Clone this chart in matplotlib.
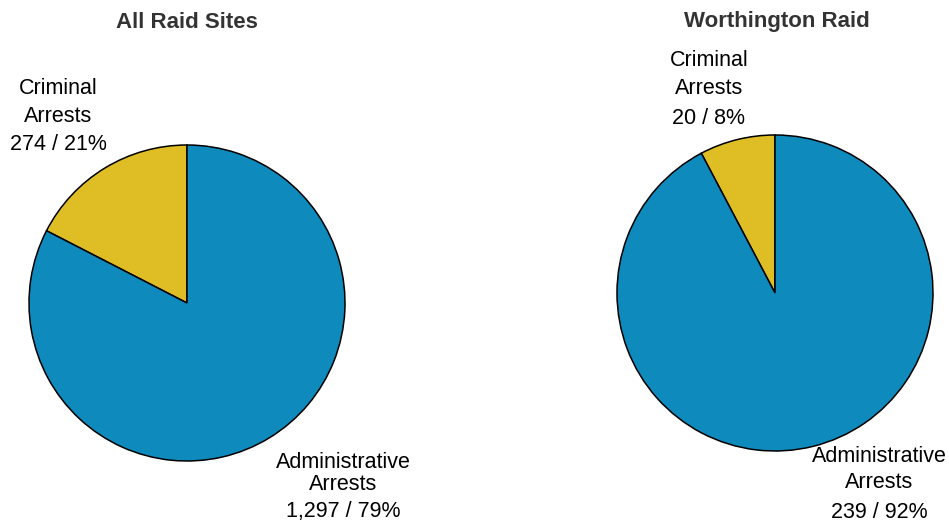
import matplotlib
matplotlib.use("Agg")
import matplotlib.pyplot as plt

# Arrest counts per raid group
groups = ["All Raid Sites", "Worthington Raid"]
criminal_counts = [274, 20]
admin_counts = [1297, 239]
criminal_labels = ["274 / 21%", "20 / 8%"]
admin_labels = ["1,297 / 79%", "239 / 92%"]

colors = ["#dfbe25", "#0e8abd"]
W, H = 949, 522

plt.rcParams["font.family"] = ["Liberation Sans", "DejaVu Sans"]
fig = plt.figure(figsize=(W / 100, H / 100), dpi=100)
ax = fig.add_axes([0, 0, 1, 1])

centers = [(187, H - 303), (775, H - 293)]
radius = 158
title_x = [187, 777]
crim_pos = [(58, [88, 116, 145]), (709, [60, 88, 118])]
admin_pos = [(343, [463, 485, 512]), (879, [457, 483, 512])]

for i in range(2):
    ax.pie([criminal_counts[i], admin_counts[i]], colors=colors, startangle=90,
           counterclock=True, center=centers[i], radius=radius,
           wedgeprops=dict(edgecolor="black", linewidth=1.1), frame=True)
    ax.text(title_x[i], H - 22, groups[i], ha="center", va="center",
            fontsize=16, fontweight="bold", color="#333333")
    cx, ys = crim_pos[i]
    for txt, y in zip(["Criminal", "Arrests", criminal_labels[i]], ys):
        ax.text(cx, H - y, txt, ha="center", va="center", fontsize=15.5, color="black")
    cx, ys = admin_pos[i]
    for txt, y in zip(["Administrative", "Arrests", admin_labels[i]], ys):
        ax.text(cx, H - y, txt, ha="center", va="center", fontsize=15.5, color="black")

ax.set_xlim(0, W)
ax.set_ylim(0, H)
ax.set_aspect("equal")
ax.axis("off")
fig.savefig("out.png", dpi=100)
